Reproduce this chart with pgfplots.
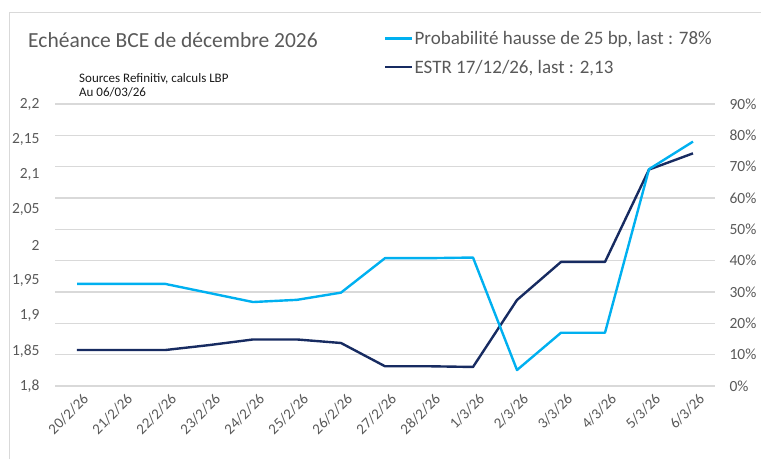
\documentclass[border=0pt]{standalone}
\usepackage{pgfplots}
\pgfplotsset{compat=1.18}
\usepackage{fontspec}
\setmainfont{Carlito}

\definecolor{txtgray}{HTML}{595959}
\definecolor{gridgray}{HTML}{D9D9D9}
\definecolor{lightblue}{HTML}{00B0F0}
\definecolor{navy}{HTML}{172B61}

% plot area: x 55..715 px, y 104..386 px from the top of a 761x459 picture
\pgfplotsset{
  base/.style={
    scale only axis, width=660pt, height=282pt,
    at={(55pt,73pt)}, anchor=south west,
    xmin=-0.5, xmax=14.5,
    axis line style={draw=none},
    major tick length=0pt,
    tick label style={font=\fontsize{15.5}{18}\selectfont, text=txtgray},
    /pgf/number format/assume math mode=true,
  }
}

\begin{document}
\begin{tikzpicture}
\path[use as bounding box] (0pt,0pt) rectangle (761pt,459pt);
\draw[gridgray, line width=1pt] (9pt,0pt) -- (9pt,446pt) -- (761pt,446pt);

% grid, right labels, dates
\begin{axis}[base,
  ymin=0, ymax=90, ytick={0,10,...,90},
  yticklabel pos=right,
  yticklabel={\pgfmathprintnumber{\tick}\%},
  y tick label style={xshift=11pt},
  ymajorgrids, grid style={gridgray, line width=1.2pt},
  xtick={0,...,14},
  xticklabels={20/2/26,21/2/26,22/2/26,23/2/26,24/2/26,25/2/26,26/2/26,27/2/26,28/2/26,1/3/26,2/3/26,3/3/26,4/3/26,5/3/26,6/3/26},
  x tick label style={rotate=45, anchor=north east, inner sep=1pt, yshift=-7pt,
    font=\fontsize{15}{18}\selectfont},
]
\addplot[draw=none, forget plot] coordinates {(0,0) (14,0)};
\end{axis}

% ESTR, left axis
\begin{axis}[base,
  ymin=1.8, ymax=2.2,
  ytick={1.8,1.85,1.9,1.95,2,2.05,2.1,2.15,2.2},
  yticklabel pos=left,
  y tick label style={xshift=-12pt},
  /pgf/number format/.cd, fixed, precision=2, use comma,
  /pgfplots/.cd,
  xtick=\empty,
]
\addplot[navy, line width=2.4pt, line join=round] coordinates {
  (0,1.851) (1,1.851) (2,1.851) (3,1.858) (4,1.866) (5,1.866) (6,1.861)
  (7,1.828) (8,1.828) (9,1.827) (10,1.922) (11,1.976) (12,1.976)
  (13,2.107) (14,2.130)
};
\end{axis}

% probability, right axis
\begin{axis}[base,
  ymin=0, ymax=90, xtick=\empty, ytick=\empty,
  legend image code/.code={\draw[#1] (0pt,0pt) -- (27pt,0pt);},
  legend style={at={(rel axis cs:0.4985,1.259)}, anchor=north west,
    draw=none, fill=none, inner sep=0pt, column sep=0pt, row sep=14pt,
    font=\fontsize{19}{21}\selectfont, text=txtgray,
    nodes={inner xsep=1pt, inner ysep=0pt}},
  legend cell align=left,
]
\addplot[lightblue, line width=2.4pt, line join=round] coordinates {
  (0,32.6) (1,32.6) (2,32.6) (3,29.7) (4,26.8) (5,27.5) (6,29.8)
  (7,40.8) (8,40.8) (9,41.0) (10,5.1) (11,17.0) (12,17.0)
  (13,69.2) (14,78.0)
};
\addlegendentry{Probabilité hausse de 25 bp, last : 78\%}
\addlegendimage{navy, line width=2.4pt}
\addlegendentry{ESTR 17/12/26, last : 2,13}
\end{axis}

\node[anchor=base west, inner sep=0pt, text=txtgray, font=\fontsize{21.5}{25}\selectfont] at (28pt,411pt) {Echéance BCE de décembre 2026};
\node[anchor=base west, inner sep=0pt, text=black!90, font=\fontsize{13}{15}\selectfont] at (79pt,377pt) {Sources Refinitiv, calculs LBP};
\node[anchor=base west, inner sep=0pt, text=black!90, font=\fontsize{13}{15}\selectfont] at (79pt,362pt) {Au 06/03/26};
\end{tikzpicture}
\end{document}
